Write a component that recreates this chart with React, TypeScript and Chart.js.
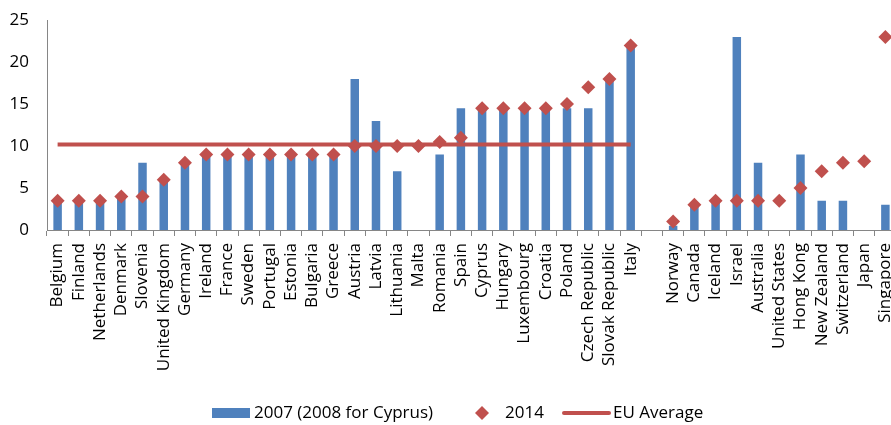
import React, { useEffect, useRef } from "react";
import { Chart, registerables } from "chart.js";

Chart.register(...registerables);

const categories: string[] = [
  "Belgium", "Finland", "Netherlands", "Denmark", "Slovenia", "United Kingdom", "Germany",
  "Ireland", "France", "Sweden", "Portugal", "Estonia", "Bulgaria", "Greece", "Austria",
  "Latvia", "Lithuania", "Malta", "Romania", "Spain", "Cyprus", "Hungary", "Luxembourg",
  "Croatia", "Poland", "Czech Republic", "Slovak Republic", "Italy", "",
  "Norway", "Canada", "Iceland", "Israel", "Australia", "United States", "Hong Kong",
  "New Zealand", "Switzerland", "Japan", "Singapore",
];

const values2007: (number | null)[] = [
  3.5, 3.5, 3.5, 4, 8, 6, 8, 9, 9, 9, 9, 9, 9, 9, 18, 13, 7, null, 9, 14.5, 14.5, 14.5, 14.5,
  14.5, 14.5, 14.5, 18, 22, null, 0.5, 3, 3.5, 23, 8, null, 9, 3.5, 3.5, null, 3,
];

const values2014: (number | null)[] = [
  3.5, 3.5, 3.5, 4, 4, 6, 8, 9, 9, 9, 9, 9, 9, 9, 10, 10, 10, 10, 10.5, 11, 14.5, 14.5, 14.5,
  14.5, 15, 17, 18, 22, null, 1, 3, 3.5, 3.5, 3.5, 3.5, 5, 7, 8, 8.2, 23,
];

const euAverageValue = 10.2;
const euCount = 28;
const euAverage: (number | null)[] = categories.map((_, i) => (i < euCount ? euAverageValue : null));

const yTicks = [0, 5, 10, 15, 20, 25];
const legendLabels = ["2007 (2008 for Cyprus)", "2014", "EU Average"];

const BLUE = "#4F81BD";
const RED = "#C0504D";
const FONT = "'Open Sans', sans-serif";

const customLegend = {
  id: "customLegend",
  afterDraw(chart: any) {
    const ctx: CanvasRenderingContext2D = chart.ctx;
    const y = 413;
    ctx.save();
    ctx.font = `17px ${FONT}`;
    ctx.textBaseline = "middle";
    ctx.textAlign = "left";
    // bar swatch
    ctx.fillStyle = BLUE;
    ctx.fillRect(212, y - 5, 38, 10);
    ctx.fillStyle = "#000";
    ctx.fillText(legendLabels[0], 254, y);
    // diamond
    ctx.fillStyle = RED;
    ctx.beginPath();
    ctx.moveTo(482, y - 7);
    ctx.lineTo(489, y);
    ctx.lineTo(482, y + 7);
    ctx.lineTo(475, y);
    ctx.closePath();
    ctx.fill();
    ctx.fillStyle = "#000";
    ctx.fillText(legendLabels[1], 505, y);
    // line
    ctx.strokeStyle = RED;
    ctx.lineWidth = 4;
    ctx.lineCap = "round";
    ctx.beginPath();
    ctx.moveTo(564, y);
    ctx.lineTo(609, y);
    ctx.stroke();
    ctx.fillText(legendLabels[2], 613, y);
    ctx.restore();
  },
};

export default function App() {
  const ref = useRef<HTMLCanvasElement | null>(null);

  useEffect(() => {
    document.body.style.margin = "0";
    const chart = new Chart(ref.current!, {
      type: "bar",
      data: {
        labels: categories,
        datasets: [
          {
            type: "bar",
            label: legendLabels[0],
            data: values2007,
            backgroundColor: BLUE,
            borderWidth: 0,
            categoryPercentage: 1,
            barPercentage: 0.4,
            order: 3,
          },
          {
            type: "line",
            label: legendLabels[1],
            data: values2014,
            showLine: false,
            pointStyle: "rectRot",
            pointRadius: 7,
            pointBackgroundColor: RED,
            pointBorderColor: RED,
            pointBorderWidth: 0,
            backgroundColor: RED,
            borderColor: RED,
            order: 1,
          },
          {
            type: "line",
            label: legendLabels[2],
            data: euAverage,
            borderColor: RED,
            backgroundColor: RED,
            borderWidth: 4,
            pointRadius: 0,
            spanGaps: false,
            order: 2,
          },
        ] as any,
      },
      options: {
        responsive: false,
        animation: false,
        devicePixelRatio: 1,
        layout: { padding: { top: 1, right: 0, left: 0, bottom: 0 } },
        plugins: {
          tooltip: { enabled: false },
          legend: { display: false },
        },
        scales: {
          x: {
            offset: true,
            afterFit: (scale: any) => {
              scale.height = 195;
              scale.paddingRight = 0;
              scale.paddingLeft = 0;
            },
            grid: {
              display: true,
              drawOnChartArea: false,
              drawTicks: true,
              tickLength: 6,
              color: "#868686",
              offset: true,
            },
            border: { display: true, color: "#868686", width: 1 },
            ticks: {
              autoSkip: false,
              minRotation: 90,
              maxRotation: 90,
              padding: 7,
              color: "#000",
              font: { family: FONT, size: 17 },
            },
          },
          y: {
            min: 0,
            max: 25,
            afterBuildTicks: (scale: any) => {
              scale.ticks = yTicks.map((v) => ({ value: v }));
            },
            afterFit: (scale: any) => {
              scale.width = 47;
            },
            grid: { display: false },
            border: { display: true, color: "#868686", width: 1 },
            ticks: {
              padding: 10,
              color: "#000",
              font: { family: FONT, size: 17 },
            },
          },
        },
      } as any,
      plugins: [customLegend],
    });
    return () => chart.destroy();
  }, []);

  return (
    <div style={{ position: "absolute", left: 0, top: 0, width: 891, height: 425, overflow: "hidden" }}>
      <canvas ref={ref} width={903} height={425} />
    </div>
  );
}
